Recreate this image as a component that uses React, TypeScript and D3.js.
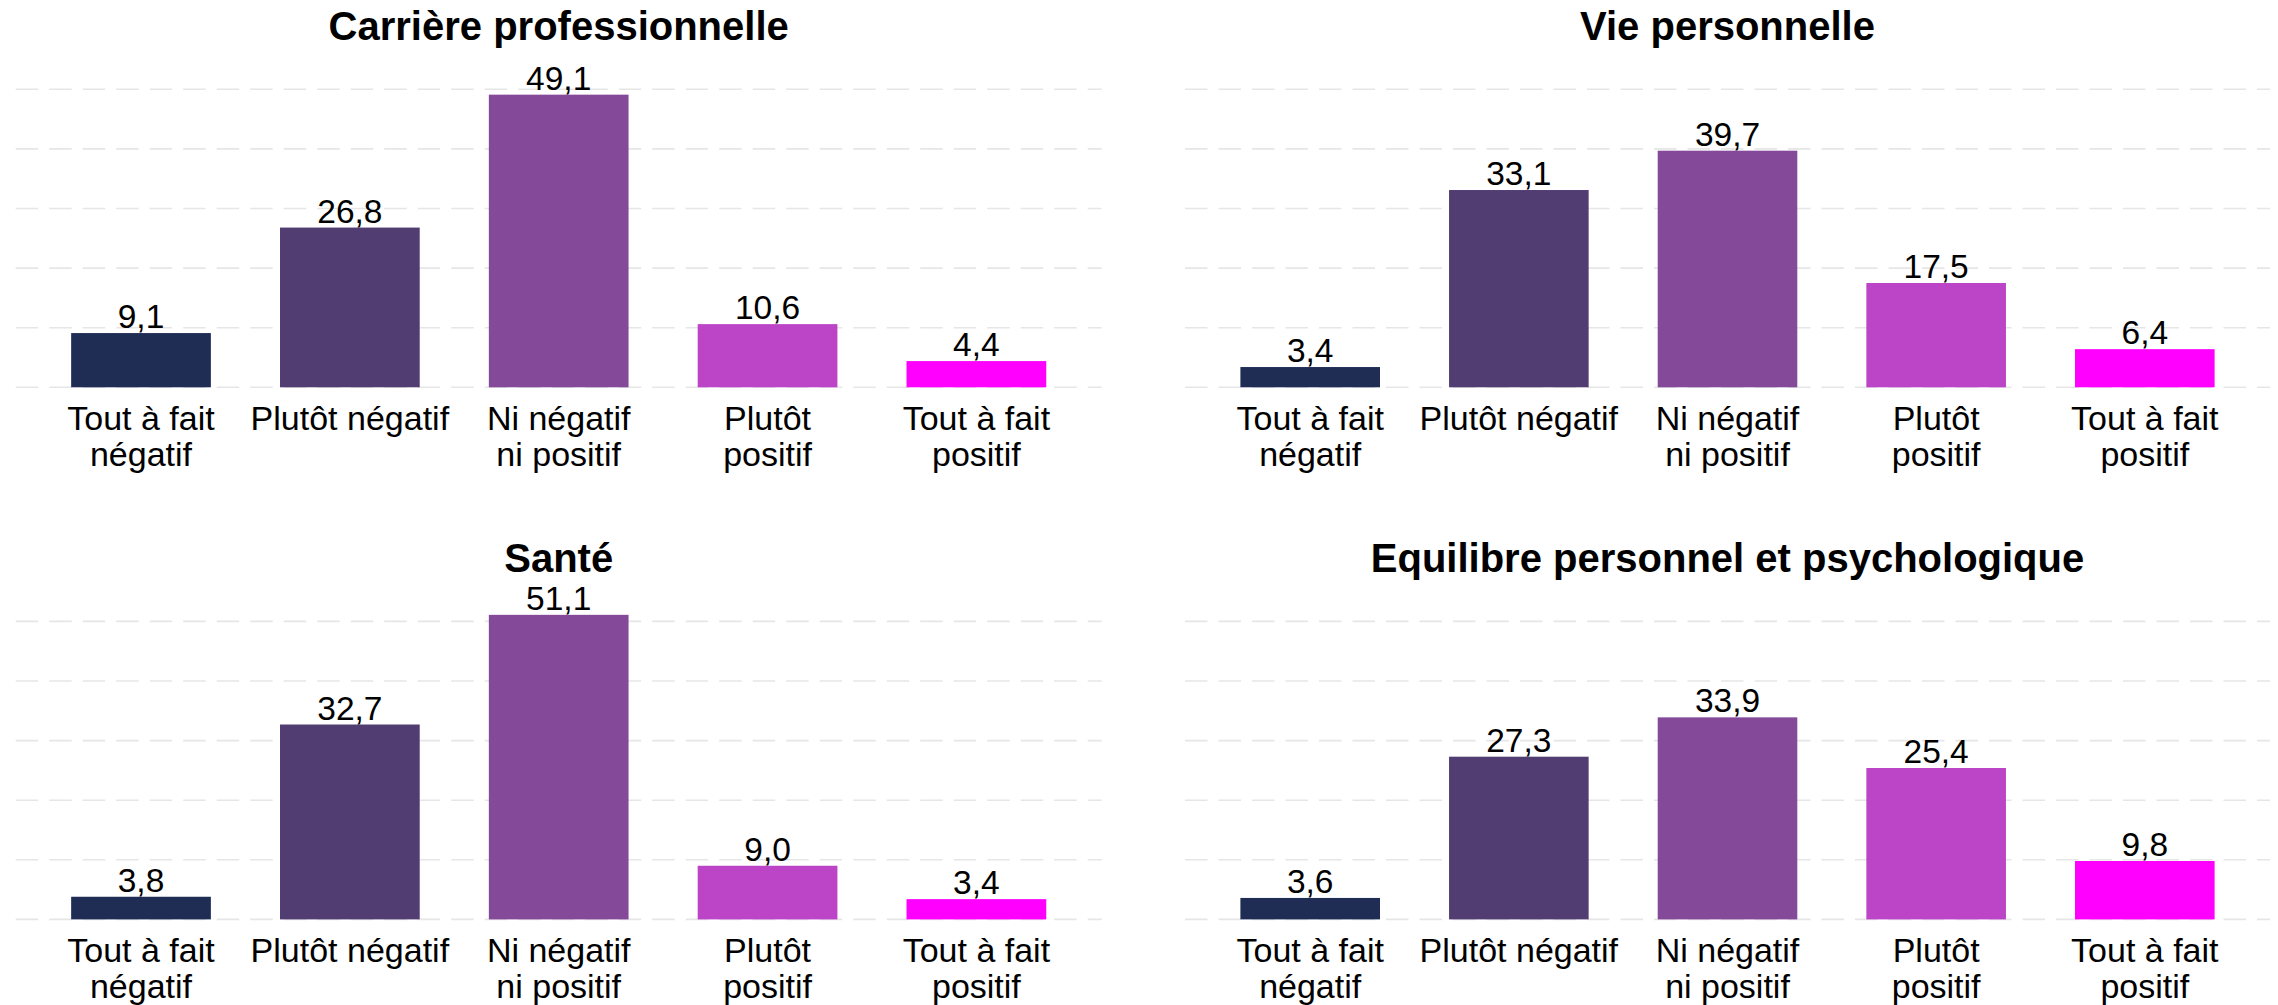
import React from "react";
import * as d3 from "d3";

// categories and their wrapped tick labels
const categories = ["Tout à fait négatif", "Plutôt négatif", "Ni négatif ni positif", "Plutôt positif", "Tout à fait positif"];
const tickLabels = [["Tout à fait", "négatif"], ["Plutôt négatif"], ["Ni négatif", "ni positif"], ["Plutôt", "positif"], ["Tout à fait", "positif"]];
const colors = ["#1f2d55", "#513d72", "#844999", "#bc44c6", "#ff00ff"];

const titles = ["Carrière professionnelle", "Vie personnelle", "Santé", "Equilibre personnel et psychologique"];
const carriere = [9.1, 26.8, 49.1, 10.6, 4.4];
const vie = [3.4, 33.1, 39.7, 17.5, 6.4];
const sante = [3.8, 32.7, 51.1, 9.0, 3.4];
const equilibre = [3.6, 27.3, 33.9, 25.4, 9.8];
const gridValues = [0, 10, 20, 30, 40, 50];

const series = [carriere, vie, sante, equilibre];

const W = 2278;
const H = 1005;
const font = "'Liberation Sans', Arial, sans-serif";
const fmt = (v: number) => d3.format(".1f")(v).replace(".", ",");

function Panel({ title, values, x0, x1, yBase }: { title: string; values: number[]; x0: number; x1: number; yBase: number }) {
  const x = d3.scaleBand().domain(categories).range([x0, x1]).paddingInner(0.331).paddingOuter(0.2655);
  const y = d3.scaleLinear().domain([0, 50]).range([yBase, yBase - 298]);
  const cx = (x0 + x1) / 2;
  return (
    <g>
      <text x={cx} y={yBase - 347.5} textAnchor="middle" fontFamily={font} fontWeight="bold" fontSize={40} fill="#000">
        {title}
      </text>
      {gridValues.map((g) => (
        <line key={g} x1={x0} x2={x1} y1={y(g)} y2={y(g)} stroke="#e6e6e6" strokeWidth={1.6} strokeDasharray="22.5 11" />
      ))}
      {values.map((v, i) => (
        <g key={categories[i]}>
          <rect x={x(categories[i])} y={y(v)} width={x.bandwidth()} height={y(0) - y(v)} fill={colors[i]} />
          <text x={x(categories[i])! + x.bandwidth() / 2} y={y(v) - 5} textAnchor="middle" fontFamily={font} fontSize={33.5} fill="#000">
            {fmt(v)}
          </text>
          {tickLabels[i].map((line, j) => (
            <text key={j} x={x(categories[i])! + x.bandwidth() / 2} y={yBase + 43 + j * 36} textAnchor="middle" fontFamily={font} fontSize={34} fill="#000">
              {line}
            </text>
          ))}
        </g>
      ))}
    </g>
  );
}

export default function App() {
  const cols = [[15.7, 1101.7], [1185, 2270]];
  const rows = [387.3, 919.4];
  return (
    <svg width={W} height={H} style={{ position: "absolute", left: 0, top: 0, background: "#fff" }}>
      {series.map((vals, k) => (
        <Panel key={titles[k]} title={titles[k]} values={vals} x0={cols[k % 2][0]} x1={cols[k % 2][1]} yBase={rows[Math.floor(k / 2)]} />
      ))}
    </svg>
  );
}
